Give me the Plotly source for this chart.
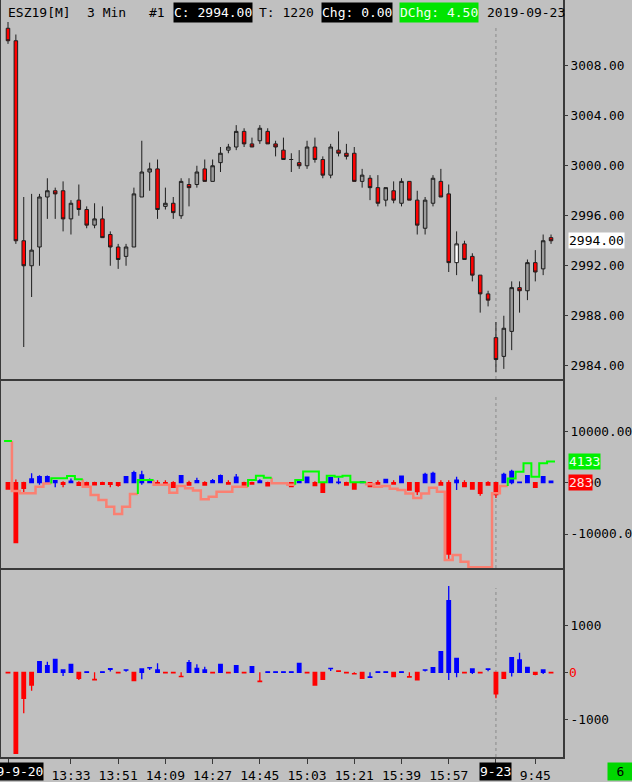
import plotly.graph_objects as go

# ---------------- data ----------------
bar_index = list(range(70))

price_open = [3011.0, 3010.0, 2994.0, 2992.0, 2993.5, 2997.5, 2998.0, 2998.0, 2995.75, 2997.25,
              2996.5, 2995.25, 2995.75, 2994.5, 2993.5, 2992.75, 2993.5, 2997.5, 2999.5, 2999.75,
              2996.75, 2997.0, 2996.0, 2998.5, 2998.5, 2999.75, 2998.75, 3000.25, 3001.25, 3001.5,
              3002.75, 3001.75, 3002.0, 3002.75, 3001.75, 3001.25, 3000.5, 3000.25, 3000.0, 3001.5,
              3000.5, 2999.25, 3001.25, 3001.0, 3001.0, 2998.75, 2999.0, 2998.25, 2997.25, 2998.0,
              2997.0, 2998.75, 2997.25, 2995.0, 2997.0, 2998.75, 2997.75, 2992.25, 2993.75, 2992.75,
              2991.25, 2989.75, 2986.25, 2984.75, 2986.75, 2990.25, 2990.0, 2992.25, 2991.75, 2994.25]
price_high = [3011.5, 3010.5, 2997.5, 2997.75, 2997.75, 2999.0, 2998.25, 2998.75, 2997.25, 2998.5,
              2996.75, 2997.0, 2996.75, 2994.75, 2993.75, 2993.75, 2998.25, 3002.0, 3000.25, 3000.5,
              2998.25, 2997.5, 2999.0, 2999.0, 3000.0, 3000.5, 3000.5, 3001.5, 3001.75, 3003.25,
              3003.0, 3002.25, 3003.25, 3003.0, 3002.0, 3002.25, 3001.0, 3001.25, 3002.0, 3002.25,
              3000.75, 3001.75, 3002.75, 3001.75, 3001.5, 2999.75, 2999.25, 2999.25, 2998.25, 2998.75,
              2999.0, 2998.75, 2998.0, 2997.5, 2999.25, 2999.75, 2998.5, 2994.75, 2994.0, 2993.0,
              2991.25, 2990.0, 2987.5, 2988.0, 2990.75, 2990.75, 2992.5, 2993.25, 2994.5, 2994.5]
price_low = [3009.75, 2993.75, 2985.5, 2989.5, 2992.0, 2995.75, 2995.75, 2994.75, 2994.5, 2996.0,
             2995.0, 2995.0, 2994.25, 2992.0, 2991.75, 2992.0, 2993.5, 2997.5, 2998.0, 2995.75,
             2996.5, 2995.75, 2995.75, 2996.75, 2998.25, 2998.75, 2998.75, 2999.5, 3001.0, 3001.25,
             3001.5, 3001.5, 3001.75, 3001.75, 3000.75, 3000.5, 2999.5, 2999.75, 2999.75, 3000.25,
             2999.0, 2999.0, 3000.75, 3000.5, 2998.75, 2998.25, 2997.25, 2996.75, 2996.75, 2997.0,
             2996.75, 2997.25, 2994.5, 2994.5, 2996.75, 2997.5, 2991.5, 2991.25, 2992.5, 2990.75,
             2988.25, 2988.75, 2983.5, 2983.75, 2985.25, 2988.25, 2989.25, 2990.75, 2991.25, 2993.75]
price_close = [3010.0, 2994.0, 2992.0, 2993.25, 2997.5, 2998.0, 2997.75, 2995.75, 2997.0, 2996.5,
               2995.25, 2995.75, 2994.25, 2993.5, 2992.5, 2993.5, 2997.75, 2999.5, 2999.75, 2996.5,
               2997.0, 2996.25, 2998.75, 2998.25, 2999.5, 2998.75, 3000.0, 3001.0, 3001.5, 3002.75,
               3001.75, 3001.5, 3003.0, 3001.75, 3001.5, 3000.5, 3000.5, 3000.0, 3001.5, 3000.5,
               2999.25, 3001.5, 3001.0, 3000.75, 2998.75, 2999.25, 2998.25, 2997.0, 2998.25, 2997.25,
               2998.75, 2997.25, 2995.25, 2997.25, 2999.0, 2997.5, 2992.25, 2993.75, 2992.5, 2991.25,
               2989.75, 2989.25, 2984.5, 2987.0, 2990.25, 2990.0, 2992.25, 2991.5, 2994.0, 2994.0]
highlight_bar = 57
last_price = 2994.0
price_ticks = [2984, 2988, 2992, 2996, 3000, 3004, 3008]

delta_open = [0] * 70
delta_high = [0, 600, 200, 1830, 1430, 1400, 400, 300, 800, 300,
              200, 200, 200, 0, 0, 1170, 2340, 2340, 800, 500,
              500, 300, 1360, 400, 970, 300, 700, 1620, 500, 1690,
              200, 200, 650, 200, 0, 0, 0, 650, 1170, 300,
              0, 1000, 1000, 200, 0, 200, 0, 500, 650, 500,
              1300, 0, 0, 1950, 2140, 500, 500, 1170, 500, 0,
              0, 300, 0, 1950, 2500, 100, 1360, 0, 1170, 283]
delta_low = [-1230, -11700, -2070, 0, -400, 0, -900, -900, 0, -500,
             -500, -400, -300, -900, -800, 0, 0, -400, 0, -300,
             -400, -900, 0, -450, 0, -450, 0, 0, -250, 0,
             -700, -250, 0, -600, -100, -100, -780, 0, 0, -550,
             -1880, 0, -300, -450, -1230, 0, -780, -250, 0, -250,
             0, -1430, -2400, 0, 0, -450, -15070, -1430, -780, -1230,
             -2530, -450, -3000, 0, -300, 0, 0, -900, 0, 0]
delta_close = [-1230, -11700, -1090, 720, 1170, 1170, 400, -300, 300, -500,
               -500, -400, -300, -300, -500, 1170, 1950, 1500, 500, -300,
               -400, -900, 1360, -450, 400, -450, 400, 1360, -250, 1100,
               -700, -250, 330, -600, -100, -100, -780, 400, 1100, -550,
               -1880, 1000, 100, -450, -1230, 200, -780, -250, 650, -250,
               1300, -1430, -1750, 1620, 1820, -450, -13900, 500, -780, -1230,
               -2070, -450, -2300, 1620, 2200, 100, 1360, -900, 1170, 283]
cum_delta = [8130, -1620, -2070, -2070, -780, -150, 850, 850, 1300, 660,
             -780, -2400, -3370, -4680, -6100, -4680, -2200, 520, 520, -390,
             -390, -1950, -640, -1100, -1500, -3240, -2730, -1750, -1750, -780,
             -780, 520, 1360, 970, -100, -100, -390, 520, 2200, 2200,
             80, 1360, 1170, 1360, 100, 100, -300, -800, -650, -1200,
             -1400, -2100, -3000, -2100, -1000, -1750, -15070, -14100, -15400, -16500,
             -16500, -16500, -2070, -640, 800, 2140, 3780, 1170, 3780, 4133]
delta_ticks = [-10000, 0, 10000]
delta_tick_text = ['-10000.00', '0.00', '10000.00']

vol_open = [0, 0, 0, 0, 0, 0, 0, 0, 0, 0,
            0, -150, 0, 65, 0, 45, 0, 0, 95, 0,
            0, 0, -85, 0, 0, 0, 0, 0, 0, 0,
            0, 0, -190, 0, 0, 0, 0, 0, 0, 0,
            0, 80, 30, 0, -30, 0, -105, 0, 0, 0,
            0, -95, 0, 45, 0, 0, 0, 0, 0, 0,
            0, 65, 0, 0, 0, 0, 0, 0, 0, 0]
vol_high = [0, 0, 0, 0, 227, 227, 277, 50, 170, 0,
            10, 0, 10, 75, 0, 50, 0, 70, 100, 190,
            0, 0, 0, 262, 170, 120, 0, 170, 0, 142,
            0, 120, 0, 10, 10, 10, 10, 190, 0, 0,
            0, 85, 30, 0, 0, 0, 0, 10, 10, 0,
            10, 0, 0, 50, 100, 440, 1836, 298, 0, 70,
            0, 70, 0, 0, 312, 418, 106, 0, 50, 0]
vol_low = [-10, -1723, -872, -390, 0, 0, 0, -78, 0, -163,
           0, -165, 0, 15, -10, 10, -177, -150, 50, 0,
           -10, -10, -92, 0, 0, 0, -10, 0, -10, 0,
           -10, 0, -200, 0, 0, 0, 0, 0, -10, -270,
           -150, 30, 20, -10, -35, -128, -105, 0, 0, -92,
           0, -100, -163, 15, 0, 0, -163, -106, -10, -35,
           -10, 20, -553, -128, -92, 0, 0, -65, -35, -10]
vol_close = [-10, -1723, -553, -270, 227, 142, 277, 50, 170, -128,
             10, -160, 10, 75, -10, 50, -177, 70, 100, 50,
             -10, -10, -92, 205, 85, 50, -10, 170, -10, 142,
             -10, 120, -200, 10, 10, 10, 10, 190, -10, -270,
             -150, 85, 20, -10, -35, -128, -100, 10, 10, -92,
             10, -100, -163, 50, 100, 440, 1524, 298, -10, 70,
             -10, 70, -461, -128, 312, 262, 106, -43, 50, -10]
vol_ticks = [-1000, 0, 1000]
vol_tick_text = ['-1000', '', '1000']

time_tick_bars = [0, 8, 14, 20, 26, 32, 38, 44, 50, 56, 62, 67]
time_tick_text = ['', '13:33', '13:51', '14:09', '14:27', '14:45', '15:03',
                  '15:21', '15:39', '15:57', '', '9:45']
date_bars = [0, 62]
date_text = ['2019-9-20', '9-23']
session_break_bar = 62

# ---------------- layout helpers ----------------
W, H = 632, 782
ML, MR, MT, MB = 1, 69, 0, 25
PW, PH = W - ML - MR, H - MT - MB


def fx(px):
    return (px - ML) / PW


def fy(py):
    return (PH - (py - MT)) / PH


BG = '#C0C0C0'
FRAME = '#3A3A3A'
FONT = 'DejaVu Sans Mono'
XR = [-0.889, 70.52]

fig = go.Figure()

# ---- panel 1: price candles ----
main_idx = [i for i in bar_index if i != highlight_bar]
fig.add_trace(go.Candlestick(
    x=main_idx,
    open=[price_open[i] for i in main_idx],
    high=[price_high[i] for i in main_idx],
    low=[price_low[i] for i in main_idx],
    close=[price_close[i] for i in main_idx],
    increasing=dict(fillcolor='#9C9C9C', line=dict(color='#1E1E1E', width=1)),
    decreasing=dict(fillcolor='#FF0000', line=dict(color='#1E1E1E', width=1)),
    whiskerwidth=0, xaxis='x', yaxis='y', hoverinfo='skip', showlegend=False))
fig.add_trace(go.Candlestick(
    x=[highlight_bar],
    open=[price_open[highlight_bar]], high=[price_high[highlight_bar]],
    low=[price_low[highlight_bar]], close=[price_close[highlight_bar]],
    increasing=dict(fillcolor='#FFFFFF', line=dict(color='#1E1E1E', width=1)),
    decreasing=dict(fillcolor='#FFFFFF', line=dict(color='#1E1E1E', width=1)),
    whiskerwidth=0, xaxis='x', yaxis='y', hoverinfo='skip', showlegend=False))


# ---- panel 2: step line (green above zero, salmon below) + delta bars ----
def step_path(vals, positive):
    xs, ys = [], []
    for i, v in enumerate(vals):
        if (v >= 0) != positive:
            continue
        prev_same = i > 0 and ((vals[i - 1] >= 0) == positive)
        if prev_same:
            xs += [i - 0.5, i + 0.5]
            ys += [v, v]
        else:
            prev = vals[i - 1] if i > 0 else v
            if xs:
                xs.append(None)
                ys.append(None)
            xs += [i - 0.5, i - 0.5, i + 0.5]
            ys += [prev, v, v]
    return xs, ys


sx, sy = step_path(cum_delta, False)
gx, gy = step_path(cum_delta, True)
fig.add_trace(go.Scatter(x=sx, y=sy, mode='lines', line=dict(color='#FA8072', width=2.5),
                         xaxis='x2', yaxis='y2', hoverinfo='skip', showlegend=False))
fig.add_trace(go.Scatter(x=gx, y=gy, mode='lines', line=dict(color='#00FF00', width=2),
                         xaxis='x2', yaxis='y2', hoverinfo='skip', showlegend=False))
fig.add_trace(go.Candlestick(
    x=bar_index, open=delta_open, high=delta_high, low=delta_low, close=delta_close,
    increasing=dict(fillcolor='#0000FF', line=dict(color='#0000FF', width=1.3)),
    decreasing=dict(fillcolor='#FF0000', line=dict(color='#FF0000', width=1.3)),
    whiskerwidth=0, xaxis='x2', yaxis='y2', hoverinfo='skip', showlegend=False))

# ---- panel 3: volume delta bars ----
fig.add_trace(go.Candlestick(
    x=bar_index, open=vol_open, high=vol_high, low=vol_low, close=vol_close,
    increasing=dict(fillcolor='#0000FF', line=dict(color='#0000FF', width=1.3)),
    decreasing=dict(fillcolor='#FF0000', line=dict(color='#FF0000', width=1.3)),
    whiskerwidth=0, xaxis='x3', yaxis='y3', hoverinfo='skip', showlegend=False))

xcommon = dict(range=XR, showgrid=False, zeroline=False, showline=True, linecolor=FRAME,
               linewidth=2, rangeslider=dict(visible=False), fixedrange=True, automargin=False)
ycommon = dict(side='right', showgrid=False, zeroline=False, showline=True, mirror=True,
               linecolor=FRAME, linewidth=2, ticks='outside', ticklen=3, tickcolor=FRAME,
               tickfont=dict(family=FONT, size=12.8, color='#000000'), fixedrange=True,
               automargin=False)

d1 = [fy(379), 1]
d2 = [fy(568), fy(379)]
d3 = [0, fy(568)]

fig.update_layout(
    width=W, height=H,
    margin=dict(l=ML, r=MR, t=MT, b=MB, pad=0, autoexpand=False),
    paper_bgcolor=BG, plot_bgcolor=BG,
    font=dict(family=FONT, size=13, color='#000000'),
    showlegend=False,
    boxgap=0.36,
    xaxis=dict(**xcommon, anchor='y', showticklabels=False, ticks=''),
    xaxis2=dict(**xcommon, anchor='y2', matches='x', showticklabels=False, ticks=''),
    xaxis3=dict(**xcommon, anchor='y3', matches='x', tickmode='array', tickvals=time_tick_bars,
                ticktext=time_tick_text, ticks='outside', ticklen=5, tickcolor=FRAME,
                tickfont=dict(family=FONT, size=13, color='#000000')),
    yaxis=dict(**ycommon, domain=d1, anchor='x', range=[2982.94, 3013.26],
               tickmode='array', tickvals=price_ticks, tickformat='.2f'),
    yaxis2=dict(**ycommon, domain=d2, anchor='x2', range=[-16628, 20214],
                tickmode='array', tickvals=delta_ticks, ticktext=delta_tick_text),
    yaxis3=dict(**ycommon, domain=d3, anchor='x3', range=[-1802, 2219],
                tickmode='array', tickvals=vol_ticks, ticktext=vol_tick_text),
)

# session break dashed line in each panel
for yref, top in [('y domain', 0.934), ('y2 domain', 0.915), ('y3 domain', 0.894)]:
    fig.add_shape(type='line', xref='x', yref=yref, x0=session_break_bar, x1=session_break_bar,
                  y0=0, y1=top, line=dict(color='#8A8A8A', width=1, dash='dot'), layer='below')

ann = []
# header
hy = fy(12)


def header(text, left, bg=None, color='#000000'):
    d = dict(text=text, xref='paper', yref='paper', x=fx(left), y=hy, xanchor='left',
             yanchor='middle', showarrow=False, borderpad=0,
             font=dict(family=FONT, size=13, color=color))
    if bg:
        d.update(bgcolor=bg, height=19)
    return d


ann += [
    header('ESZ19[M]', 7),
    header('3 Min', 85.5),
    header('#1', 148),
    header('C: 2994.00', 172.5, bg='#000000', color='#FFFFFF'),
    header('T: 1220', 258),
    header('Chg: 0.00', 321, bg='#000000', color='#FFFFFF'),
    header('DChg: 4.50', 399, bg='#00E400', color='#F0FFF0'),
    header('2019-09-23', 486),
]

# value labels on the right scales
ann += [
    dict(text='%.2f' % last_price, xref='paper', yref='y', x=fx(568), y=last_price,
         xanchor='left', yanchor='middle', showarrow=False, bgcolor='#FFFFFF', borderpad=0,
         font=dict(family=FONT, size=13, color='#000000')),
    dict(text=str(cum_delta[-1]), xref='paper', yref='y2', x=fx(568), y=cum_delta[-1],
         xanchor='left', yanchor='middle', showarrow=False, bgcolor='#00F000', borderpad=0,
         font=dict(family=FONT, size=13, color='#F0FFF0')),
    dict(text=str(delta_close[-1]), xref='paper', yref='y2', x=fx(568), y=0,
         xanchor='left', yanchor='middle', showarrow=False, bgcolor='#FF0000', borderpad=0,
         font=dict(family=FONT, size=13, color='#FFE8E8')),
    dict(text='0', xref='paper', yref='y3', x=fx(568), y=0,
         xanchor='left', yanchor='middle', showarrow=False, borderpad=0,
         font=dict(family=FONT, size=13, color='#FF0000')),
]

# date labels on the time scale
for b, t in zip(date_bars, date_text):
    ann.append(dict(text=t, xref='x3', yref='paper', x=b, y=fy(771), xanchor='center',
                    yanchor='middle', showarrow=False, bgcolor='#000000', borderpad=0,
                    height=17, font=dict(family=FONT, size=13, color='#FFFFFF')))

# bottom-right box
ann.append(dict(text='6', xref='paper', yref='paper', x=fx(607), y=fy(771.5), xanchor='left',
                yanchor='middle', showarrow=False, bgcolor='#00D800', borderpad=0,
                width=25, height=17, align='center',
                font=dict(family=FONT, size=13, color='#000000')))

fig.update_layout(annotations=ann)

fig.write_html("out.html", include_plotlyjs=True, config={'displayModeBar': False},
               post_script="document.body.style.margin='0px';")
